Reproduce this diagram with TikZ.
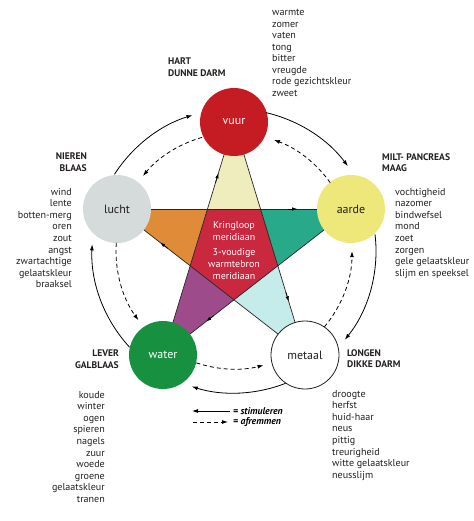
\documentclass[tikz,border=0pt]{standalone}
\usepackage{fontspec}
\setmainfont{PT Sans}
\usetikzlibrary{arrows.meta,calc}
\definecolor{vuurc}{HTML}{C41C22}
\definecolor{aardec}{HTML}{EEE87A}
\definecolor{luchtc}{HTML}{D5DADA}
\definecolor{waterc}{HTML}{17903F}
\definecolor{ptop}{HTML}{EFEDBD}
\definecolor{pright}{HTML}{27A98A}
\definecolor{pbr}{HTML}{C5EBEB}
\definecolor{pbl}{HTML}{9D4B8B}
\definecolor{pleft}{HTML}{DF8B38}
\definecolor{pcenter}{HTML}{C9283E}
\definecolor{txt}{HTML}{231F20}
\tikzset{
 elem/.style={circle, minimum size=68bp, inner sep=0pt, font=\fontsize{12}{14}\selectfont},
 organ/.style={font=\bfseries\fontsize{9.6}{11.5}\selectfont, inner sep=0pt, text=txt},
 props/.style={font=\fontsize{10.1}{11.6}\selectfont, inner sep=0pt, text=txt},
 solidarc/.style={line width=0.8bp, -{Latex[length=6bp,width=4bp]}},
 dasharc/.style={line width=0.8bp, dash pattern=on 4bp off 3bp, -{Latex[length=6bp,width=4bp]}},
 starline/.style={line width=0.7bp, draw=black!85},
 midarrow/.style={-{Latex[length=5bp,width=3.5bp]}, line width=0.7bp},
 legtext/.style={font=\bfseries\itshape\fontsize{9.8}{10}\selectfont, inner sep=0pt, anchor=west},
}
\begin{document}
\begin{tikzpicture}[x=1bp,y=1bp]
\useasboundingbox (0,0) rectangle (474,-521);
\coordinate (C) at (234,-251);
\coordinate (cV) at (234,-122);
\coordinate (cA) at (351,-209);
\coordinate (cM) at (305,-355);
\coordinate (cW) at (163,-355);
\coordinate (cL) at (117,-209);
\coordinate (P1) at (intersection of cV--cW and cL--cA);
\coordinate (P2) at (intersection of cV--cM and cL--cA);
\coordinate (P3) at (intersection of cV--cM and cA--cW);
\coordinate (P4) at (intersection of cL--cM and cA--cW);
\coordinate (P5) at (intersection of cV--cW and cL--cM);
% star fills
\fill[ptop] (cV) -- (P2) -- (P1) -- cycle;
\fill[pright] (cA) -- (P3) -- (P2) -- cycle;
\fill[pbr] (cM) -- (P4) -- (P3) -- cycle;
\fill[pbl] (cW) -- (P5) -- (P4) -- cycle;
\fill[pleft] (cL) -- (P1) -- (P5) -- cycle;
\fill[pcenter] (P1) -- (P2) -- (P3) -- (P4) -- (P5) -- cycle;
% star lines
\draw[starline] (cV) -- (cW);
\draw[starline] (cV) -- (cM);
\draw[starline] (cL) -- (cA);
\draw[starline] (cL) -- (cM);
\draw[starline] (cA) -- (cW);
% arrows on star lines
\draw[midarrow] ($(cW)!0.74!(cV)$) -- ($(cW)!0.78!(cV)$);
\draw[midarrow] ($(cL)!0.73!(cA)$) -- ($(cL)!0.77!(cA)$);
\draw[midarrow] ($(cV)!0.73!(cM)$) -- ($(cV)!0.77!(cM)$);
\draw[midarrow] ($(cM)!0.73!(cL)$) -- ($(cM)!0.77!(cL)$);
\draw[midarrow] ($(cA)!0.73!(cW)$) -- ($(cA)!0.77!(cW)$);
% element circles
\node[elem, fill=vuurc, text=white] (vuur) at (cV) {vuur};
\node[elem, fill=aardec, text=txt] (aarde) at (cA) {aarde};
\node[elem, fill=white, draw=txt, line width=0.8bp, text=txt] (metaal) at (cM) {metaal};
\node[elem, fill=waterc, text=white] (water) at (cW) {water};
\node[elem, fill=luchtc, text=txt] (lucht) at (cL) {lucht};
% center text
\node[font=\fontsize{10}{12}\selectfont, text=white, align=center, inner sep=0pt] (kring) at (234,-250.5)
 {Kringloop\\meridiaan\\[4bp]3-voudige\\warmtebron\\meridiaan};
% solid arcs (clockwise)
\draw[solidarc] ($(C)+(77:142)$) arc[start angle=77, end angle=36.7, radius=142];
\draw[solidarc] ($(C)+(6.7:142)$) arc[start angle=6.7, end angle=-38.7, radius=142];
\draw[solidarc] ($(C)+(-68.7:142)$) arc[start angle=-68.7, end angle=-107.3, radius=142];
\draw[solidarc] ($(C)+(-137.3:142)$) arc[start angle=-137.3, end angle=-182.7, radius=142];
\draw[solidarc] ($(C)+(147.3:142)$) arc[start angle=147.3, end angle=107, radius=142];
% dashed arcs (counterclockwise)
\draw[dasharc] ($(C)+(105.7:118)$) arc[start angle=105.7, end angle=140.5, radius=118];
\draw[dasharc] ($(C)+(176:118)$) arc[start angle=176, end angle=215.9, radius=118];
\draw[dasharc] ($(C)+(251.4:118)$) arc[start angle=251.4, end angle=284.5, radius=118];
\draw[dasharc] ($(C)+(320:118)$) arc[start angle=320, end angle=359.9, radius=118];
\draw[dasharc] ($(C)+(35.4:118)$) arc[start angle=35.4, end angle=70.2, radius=118];
% organ labels
\node[organ, align=left, anchor=north west] (hart) at (168,-58) {HART\\DUNNE DARM};
\node[organ, align=right, anchor=north east] (nieren) at (87,-153) {NIEREN\\BLAAS};
\node[organ, align=left, anchor=north west] (milt) at (382,-153) {MILT- PANCREAS\\MAAG};
\node[organ, align=right, anchor=north east] (lever) at (119,-350) {LEVER\\GALBLAAS};
\node[organ, align=left, anchor=north west] (longen) at (347,-349) {LONGEN\\DIKKE DARM};
% property lists
\node[props, align=left, anchor=north west] (pvuur) at (272,-9)
 {warmte\\zomer\\vaten\\tong\\bitter\\vreugde\\rode gezichtskleur\\zweet};
\node[props, align=right, anchor=north east] (plucht) at (72,-188)
 {wind\\lente\\botten-merg\\oren\\zout\\angst\\zwartachtige\\gelaatskleur\\braaksel};
\node[props, align=left, anchor=north west] (paarde) at (395,-188)
 {vochtigheid\\nazomer\\bindwefsel\\mond\\zoet\\zorgen\\gele gelaatskleur\\slijm en speeksel};
\node[props, align=right, anchor=north east] (pwater) at (105,-391)
 {koude\\winter\\ogen\\spieren\\nagels\\zuur\\woede\\groene\\gelaatskleur\\tranen};
\node[props, align=left, anchor=north west] (pmetaal) at (332,-390)
 {droogte\\herfst\\huid-haar\\neus\\pittig\\treurigheid\\witte gelaatskleur\\neusslijm};
% legend
\coordinate (ls1) at (230,-411);
\coordinate (ls2) at (192,-411);
\coordinate (ld1) at (193,-422);
\coordinate (ld2) at (228,-422);
\draw[solidarc] (ls1) -- (ls2);
\draw[dasharc] (ld1) -- (ld2);
\node[legtext] (lstim) at (233,-411) {= stimuleren};
\node[legtext] (lafr) at (233,-422) {= afremmen};
\end{tikzpicture}
\end{document}
